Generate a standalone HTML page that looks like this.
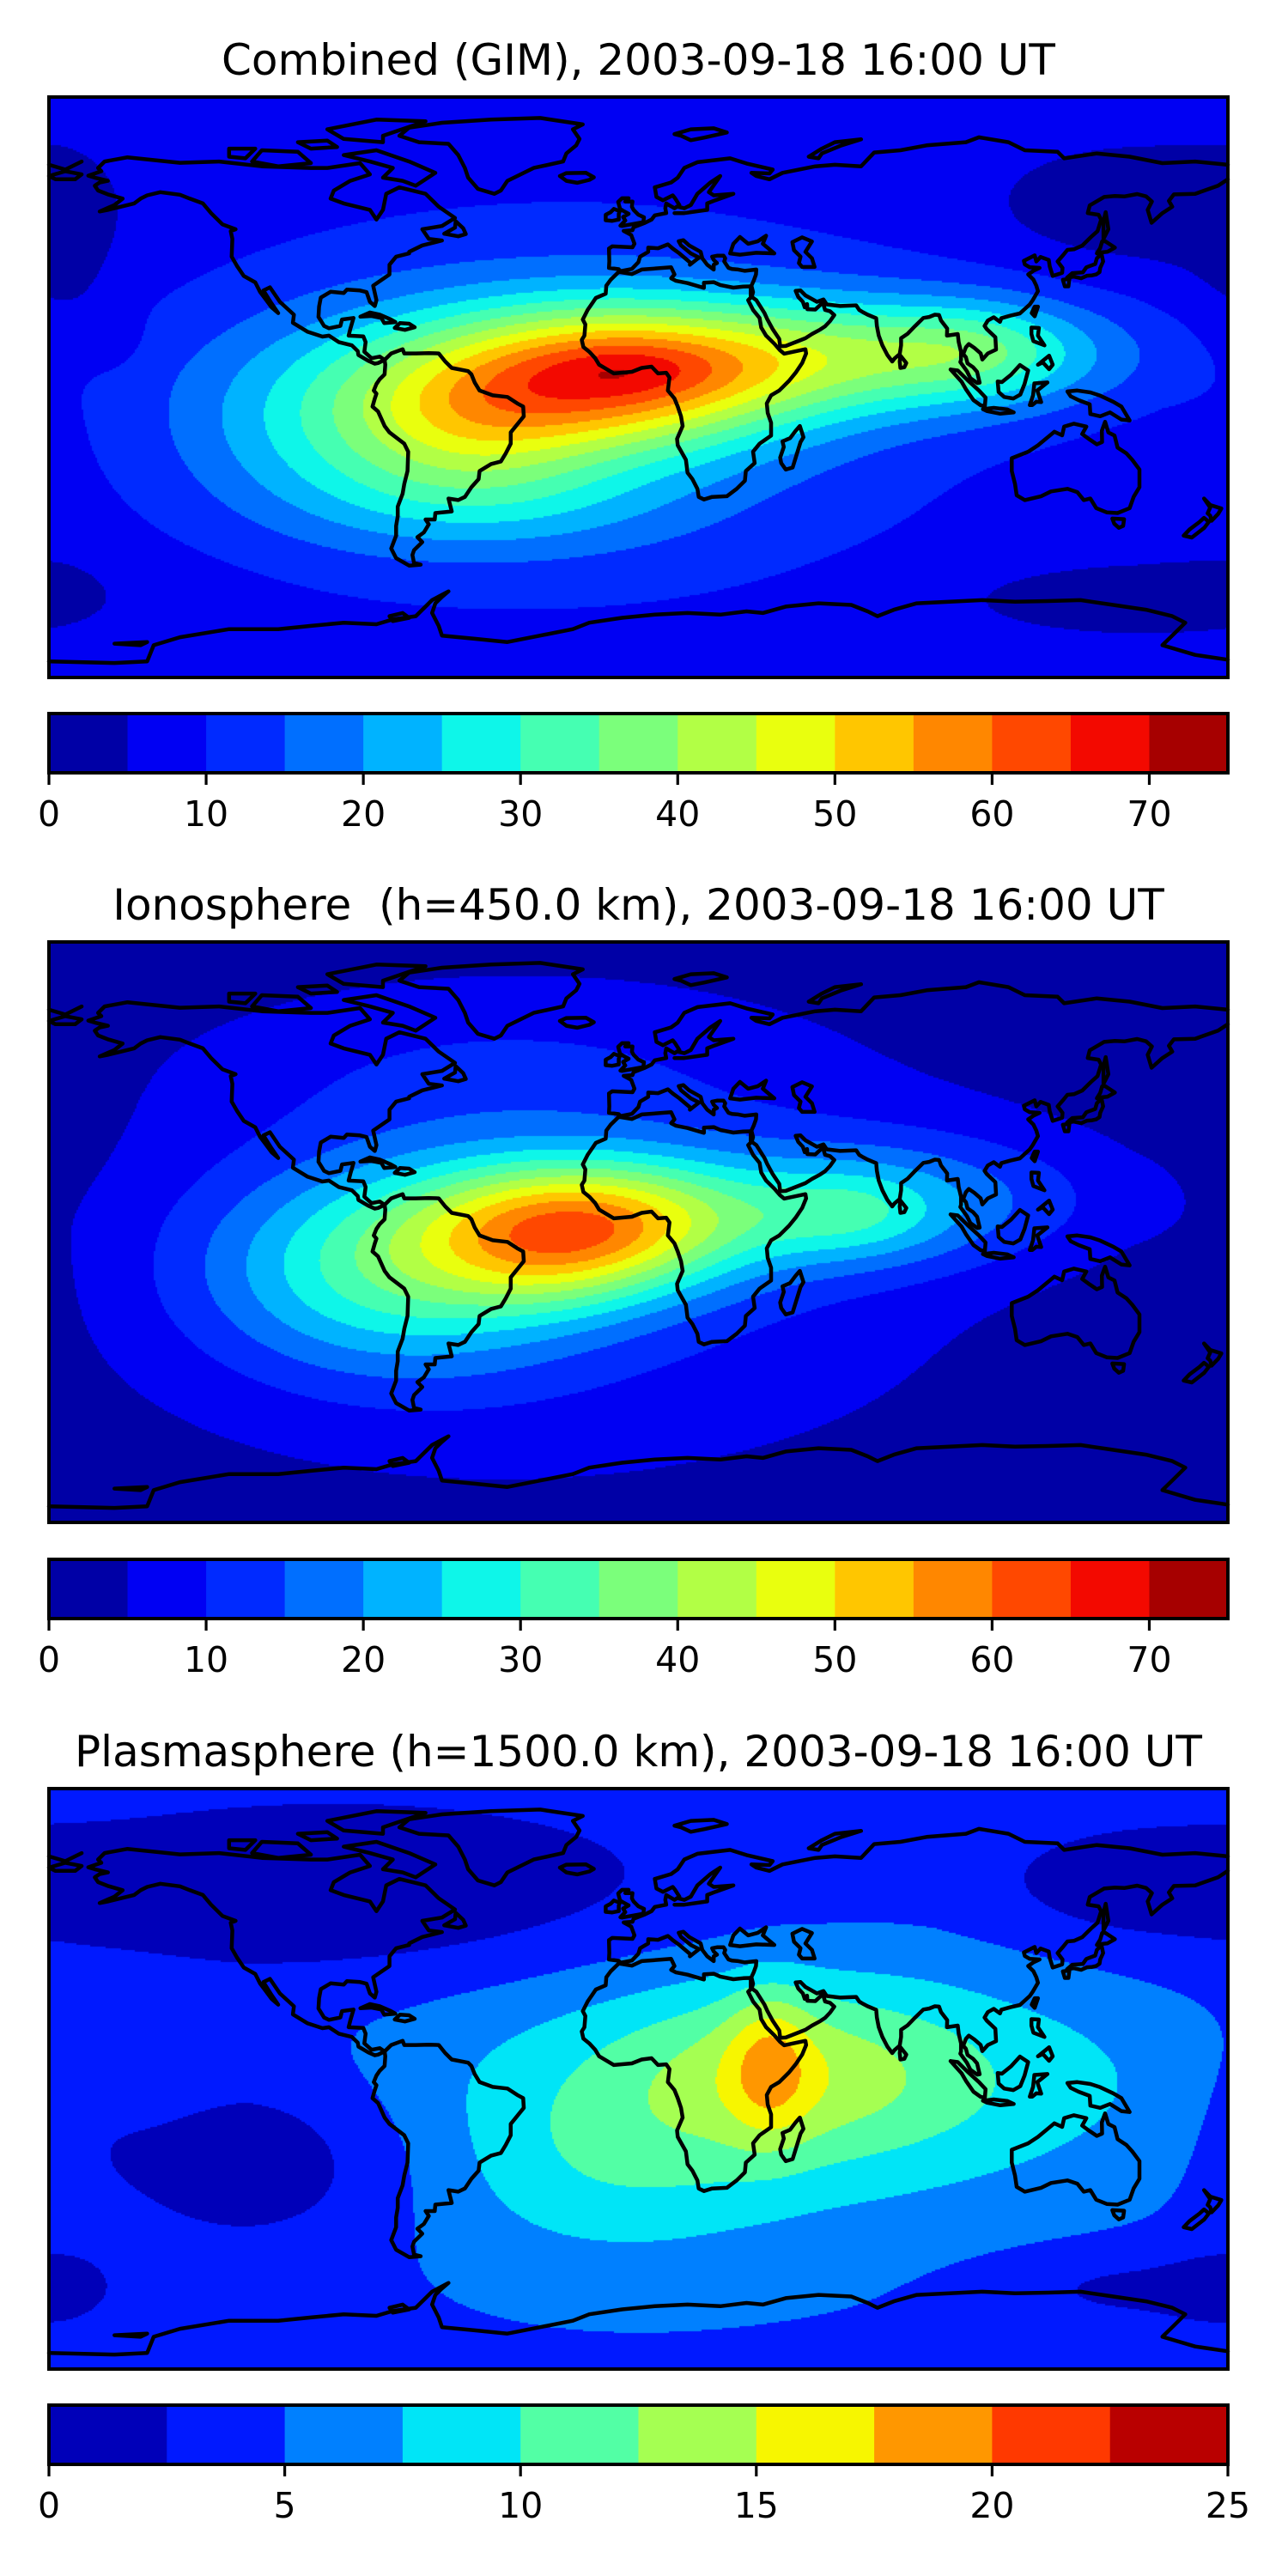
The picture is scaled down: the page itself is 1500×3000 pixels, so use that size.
<!DOCTYPE html>
<html><head><meta charset="utf-8">
<style>
html,body{margin:0;padding:0;background:#fff;}
#wrap{position:relative;width:1500px;height:3000px;overflow:hidden;background:#fff;}
canvas{position:absolute;}
svg{position:absolute;left:0;top:0;}
text{font-family:"DejaVu Sans","Liberation Sans",sans-serif;fill:#000;white-space:pre;}
</style></head>
<body>
<div id="wrap">
<canvas id="c0" width="1373" height="676" style="left:57px;top:113px"></canvas>
<canvas id="c1" width="1373" height="676" style="left:57px;top:1097px"></canvas>
<canvas id="c2" width="1373" height="676" style="left:57px;top:2083px"></canvas>
<svg id="ov" width="1500" height="3000"></svg>
</div>
<script>
// ===== data =====
const titles = ["Combined (GIM), 2003-09-18 16:00 UT","Ionosphere  (h=450.0 km), 2003-09-18 16:00 UT","Plasmasphere (h=1500.0 km), 2003-09-18 16:00 UT"];
const levelMax = [75, 75, 25];
const levelStep = [5, 5, 2.5];
const tickVals0 = [0,10,20,30,40,50,60,70];
const tickVals1 = [0,10,20,30,40,50,60,70];
const tickVals2 = [0,5,10,15,20,25];
const baseVals = [6, 2, 4];
// gaussian components per map: centre lon, centre lat, sigma lon, sigma lat, amplitude
const combLon = [-10,-80,75,105,-20,-50,-40,150,-175,145,-180,-160,0];
const combLat = [3,-10,10,12,-5,-12,-35,55,35,-65,-62,15,6];
const combSLon = [40,40,50,20,90,25,40,30,12,40,10,6,18];
const combSLat = [16,22,13,10,45,14,12,12,22,8,6,6,6];
const combAmp = [42,17,24,8,10,8,8,-5,-4,-4,-3,-3,4];
const ionoLon = [-15,-75,-25,65,80,-30,-40,150,-175];
const ionoLat = [3,-12,-12,5,10,-5,50,-10,20];
const ionoSLon = [35,40,25,20,45,90,60,40,15];
const ionoSLat = [14,22,12,10,15,45,18,30,30];
const ionoAmp = [40,22,8,10,14,10,5,-1,-1];
const plasLon = [40,45,60,-10,10,-90,150,-115,150,-180,-170];
const plasLat = [5,3,0,-30,-20,58,60,-25,-65,-65,-10];
const plasSLon = [9,35,80,35,100,75,30,35,30,12,15];
const plasSLat = [16,18,25,20,45,20,12,20,8,8,20];
const plasAmp = [5,4,5,2.5,2,-4,-2.5,-4,-2.5,-2.5,-1.5];

const coasts = [
[[-165,68],[-163,70],[-156,71.3],[-140,69.6],[-128,70],[-115,68.5],[-100,68],[-95,68],[-85,69.5],[-82,66],[-88,64],[-93,61],[-94,58.5],[-90,57],[-82,55],[-80,52],[-78,55],[-77,60],[-73,62],[-65,60],[-61,56],[-56,52.5],[-60,50],[-66,49],[-64,46],[-60,45.5],[-66,44],[-70,42],[-70,41.5],[-74,40.5],[-76,38],[-76,35],[-81,31.5],[-80,27],[-80.5,25.2],[-82,26.5],[-83,29.5],[-85,30],[-89,30.3],[-90,29.2],[-94,29.6],[-97,27.8],[-97.5,25],[-97.7,21.8],[-96,19],[-94.5,18.3],[-91,19],[-90.5,21],[-87,21.5],[-88,18],[-88.5,16],[-84,15.8],[-83.3,14],[-83.7,11],[-81.5,9],[-79,9.5],[-77.5,8.5],[-79.5,7.5],[-80.5,7.3],[-82.5,8.2],[-85.5,10],[-85.7,11.2],[-87.5,13],[-91.5,14],[-94.5,16],[-96.5,15.7],[-101,17.2],[-105.5,20],[-105.2,22.5],[-109.5,26.5],[-112.5,31],[-114.5,30],[-112,26],[-110,23],[-112,24.8],[-114,27.5],[-115.5,29.5],[-117,32.5],[-120.5,34.5],[-122.5,37.5],[-124.2,40.5],[-124,46],[-124.5,48.4],[-123,49],[-127,50.5],[-130.5,54],[-133,57],[-137,58.5],[-140,59.7],[-146,60.5],[-150,59.5],[-152,58.5],[-154,57],[-158,56],[-162,55],[-164.5,54.5],[-160,56.5],[-157.5,58.5],[-162,59.8],[-165,61],[-166,62.5],[-164.5,63.5],[-162,64],[-166,65],[-168,65.6],[-164,67],[-165,68]],
[[-73,78],[-67,76],[-58,75.5],[-55,72],[-53,68],[-52,65],[-49,61.5],[-44,60],[-42,61],[-40,64],[-37,65.5],[-32,68],[-23,70],[-22,72.5],[-19,75],[-18,77],[-20,80],[-17,81.5],[-30,83.5],[-45,83],[-60,82],[-70,80.5],[-73,78]],
[[-62,66.5],[-68,62.5],[-72,64],[-78,65],[-75,68],[-82,70],[-90,72],[-80,73.5],[-70,70],[-62,66.5]],
[[-118,70],[-110,68.5],[-100,69.5],[-104,73],[-115,73.5],[-118,70]],
[[-78,76],[-90,77],[-95,80],[-80,83],[-65,82.5],[-78,78],[-78,76]],
[[-125,71.5],[-120,71],[-117,74],[-125,74],[-125,71.5]],
[[-100,74],[-92,74.5],[-95,76.5],[-104,76],[-100,74]],
[[-77.5,8.5],[-75.5,10.5],[-72,11.8],[-71.5,10.5],[-68,10.5],[-64,10.6],[-61,10.5],[-59,8],[-57,6],[-52,5],[-51,4],[-50,1.5],[-48.5,-1],[-44.5,-2.5],[-40,-3],[-37,-5],[-35.2,-6],[-35,-9],[-37,-11.5],[-39,-14],[-39,-17.5],[-40.5,-20.5],[-42,-23],[-45,-23.8],[-48.5,-26],[-48.8,-28.5],[-51,-31],[-53,-34],[-55,-35],[-58,-34.5],[-57.5,-36.5],[-57,-38.5],[-62,-39],[-62.2,-41],[-65,-41],[-64,-42.5],[-65.5,-45],[-67.5,-46.5],[-66,-48],[-68.5,-50.5],[-69,-52],[-68.5,-54.5],[-66.5,-55],[-70,-55.3],[-74,-53],[-75.5,-50],[-74,-46],[-74,-43],[-73.5,-40],[-73.5,-37],[-72,-33],[-71.5,-30],[-70.5,-26],[-70.3,-20],[-71.5,-17.5],[-76,-14],[-77.5,-12],[-79.5,-7.5],[-81.2,-6],[-80.5,-3.5],[-80,-2],[-80.8,-1],[-80,1],[-79,2.5],[-77.5,4],[-77.3,7],[-77.5,8.5]],
[[-6,35.8],[-2,35.1],[1,36.5],[10,37.2],[11,35],[10,33.8],[11.5,33],[15,32.3],[20,30.8],[20,32.4],[23,32.6],[25,31.7],[29,30.9],[32,31.2],[34.3,31.3],[34.3,27.8],[33.5,27],[35,24],[37,21.5],[37.5,18.5],[39,16],[41.5,13.5],[43.2,11.5],[44.5,10.4],[51,11.8],[51.2,10.5],[50,7.5],[48,4.5],[46,2],[43,-1],[40.5,-2.5],[39.2,-5],[39.5,-8],[40.5,-11],[40.5,-15],[37,-17.5],[35,-20],[35.5,-23.5],[32.8,-26],[32.5,-29],[30,-31.5],[27,-33.8],[22.5,-34],[20,-34.8],[18.4,-34],[18,-31.5],[16.5,-28.5],[15,-26.5],[14.5,-22.5],[12,-18],[11.8,-16],[13.5,-12],[13,-9],[12,-6],[11,-3.5],[9,-1],[9.5,3],[8.5,4.5],[6,4.3],[4,6.4],[1,6],[-2,4.8],[-7.5,4.3],[-12,7],[-13.2,9],[-15,11],[-16.8,12.5],[-17.3,14.7],[-16.5,16],[-16.2,19.5],[-17,21],[-15.5,24],[-14,26.2],[-13,27.7],[-10,29],[-9.8,31.5],[-8.5,33.3],[-6,35.8]],
[[-9,43],[-8.9,39],[-9,37],[-6,36.6],[-5.5,36],[-2,36.7],[0,38.8],[0.5,40.5],[3,42],[3,43.3],[6,43.1],[9,44.3],[10.5,43],[12.5,41.5],[16,38.5],[15.7,38],[17,39],[18.5,40.2],[16,41.5],[13,44],[12.3,45.3],[13.7,45.6],[15.5,44],[19,42],[19.5,40],[21,38],[23,36.5],[23,38],[24,38.5],[23,39.5],[22.5,40.5],[24,40.8],[26,40.8],[26.5,40],[26.2,39],[27.5,37],[28.5,36.7],[30.5,36.5],[32.5,36.1],[36,36.5],[35.9,35],[35.2,33],[34.5,31.5],[35,29.5],[34.6,28],[36,27],[38.5,23],[39.3,21.2],[41,18],[43,15],[43.3,12.7],[45,12.8],[48,14],[51,15.2],[53,16.5],[55.5,17.9],[57,18.9],[58.5,20.5],[59.8,22.4],[58.5,23.6],[57,24],[56.3,26.3],[55.5,25.5],[54,24.1],[51.6,24.2],[51.5,25.8],[50.8,24.8],[50.2,26.5],[48.8,28],[48,29.9],[49.5,30],[51,28.5],[54.5,26.5],[56.5,27.2],[57.5,25.7],[61.6,25.2],[66.5,25.4],[67.4,24],[68.5,23.3],[70,22.5],[72.6,21.4],[72.8,19],[73.4,16],[74.5,13],[76,10],[77.5,8],[78.2,8.9],[79.8,10.3],[80.2,13],[80.2,15.2],[82.2,16.6],[84.5,19],[87,21.5],[88.8,21.8],[90.5,22.5],[91.8,22.4],[92.4,20.7],[94.3,18.2],[94.2,16],[97.5,16.5],[97.8,14],[98.5,11],[98.5,8.5],[98.3,7.8],[100.3,5],[101.4,2.8],[103.5,1.3],[104.2,1.4],[103.4,4.8],[102.2,6.2],[100.5,7.4],[100,9.3],[99.2,10.3],[100,12.4],[100.9,13.4],[102.6,12.2],[104.5,10.5],[105,8.6],[106.7,10.5],[109.2,11.7],[109,15.5],[106.4,18],[105.7,19],[106.7,20.7],[108.5,21.7],[110.4,20.3],[110.8,21.4],[113.6,22.2],[116.5,22.9],[119.5,25.7],[120.4,27],[122,29.8],[121.5,31.5],[120.6,33.4],[119,35],[120.6,36.1],[122.5,37],[119.5,37.2],[118,38.1],[117.7,39.2],[121,40.9],[121.5,39],[122.8,40.4],[125.3,39.5],[125.6,37.5],[126.5,34.5],[129.4,35.5],[129.5,37],[128,39],[129.7,41],[131,42.6],[133,42.8],[135.5,43.9],[138.2,46.6],[140.2,48.4],[141.3,52],[140.5,53.5],[137.2,54],[137.8,56.4],[142.2,59],[145.5,59.3],[148.5,59.2],[152.3,59.9],[155,59.2],[156.8,57.6],[155.5,55],[156.7,51],[160,54],[163,56],[162,57.8],[163.5,59.8],[170,60],[177,62.5],[180,64.5]],
[[180,69],[170,70],[160,69.5],[150,71.5],[140,72.5],[130,71],[128,73],[118,73.5],[113,76],[104,77.5],[100,76],[88,75],[80,73.5],[72,72.8],[68,68.5],[60,69],[54,68.5],[44,66.5],[40,64.5],[36,65.5],[34.5,66.5],[40,66.3],[41,67.5],[33,69.4],[28,71],[18,69.8],[14,68],[12,65],[10,63.5],[5,62],[5.5,59],[7.5,58],[10.5,59.5],[11.2,58.6],[12.5,56.5],[11,55.5],[8.5,57],[8.2,55.5],[8.5,54],[5,53.3],[4,52],[2,51],[-1.5,49.6],[-1.8,48.7],[-4.5,48.5],[-2.2,47.2],[-1.2,44.5],[-1.8,43.4],[-8,43.7],[-9,43]],
[[-180,65.5],[-175,67],[-170,66],[-172,64.5],[-178,64.5],[-180,65.5]],
[[-180,69],[-175,67.5],[-170,70]],
[[12,56],[14,55.5],[16,56.5],[18,60],[22,63.5],[25,65.5],[21.5,60.5],[23,59.5],[29,60],[23.5,58],[21,57],[21,55],[14,54],[11,54]],
[[28,41.5],[29,44.5],[31,46.6],[33.5,44.5],[36.5,45.3],[39,47],[38,44.5],[41.5,41.5],[36,41.7],[31,41.1],[28,41.5]],
[[47,45],[50,46.5],[53,45.2],[51,42],[53,40],[53.8,37.3],[50,37.3],[49,38.5],[49.5,40.5],[47.5,42.5],[47,45]],
[[114,-22],[114,-26],[115,-30],[115.5,-33.5],[118,-35],[123,-33.8],[126,-32.3],[131,-31.5],[134,-32.5],[136,-35],[138,-34.5],[139.8,-37.5],[143,-38.8],[146.3,-39],[150,-37.5],[151.2,-34],[153,-31],[153,-25.5],[150.8,-22.5],[149,-20.5],[146.3,-18.7],[145.4,-15],[143.5,-14],[142.5,-10.7],[141.5,-13.5],[141.6,-17],[140,-17.7],[137.5,-16],[135.5,-14.5],[136.8,-12.2],[133,-11.3],[130,-12.2],[129.4,-14.9],[127,-13.8],[125,-15.5],[122,-18],[119,-20],[114,-22]],
[[144.7,-40.7],[148.3,-40.9],[148,-43],[146.7,-43.6],[145.3,-42.3],[144.7,-40.7]],
[[172.7,-34.5],[174.6,-36.5],[178,-37.6],[177,-39.3],[175,-41.4],[174.6,-39.8],[173.8,-39.1],[174.6,-37.3],[172.7,-34.5]],
[[172.7,-40.5],[174.2,-41.7],[172.8,-43.6],[171,-45],[169,-46.6],[166.5,-46],[168.3,-44.1],[171.3,-41.8],[172.7,-40.5]],
[[49.3,-12],[50.4,-15.5],[49.5,-17],[47.1,-24.9],[45,-25.5],[43.6,-23.5],[43.3,-21.8],[44.4,-18.5],[44,-16.8],[46.3,-15.8],[48,-13.5],[49.3,-12]],
[[130.9,34],[132.5,35.4],[135.7,35.6],[136.8,37.2],[139.5,38.2],[140,40],[141.4,41.4],[141.9,39],[141,37],[140.8,35.7],[139.8,35],[138.5,34.7],[137,34.6],[135.2,33.8],[133,34.3],[130.9,34]],
[[129.6,33.3],[131.6,33.6],[131.3,31.3],[130.2,31.3],[129.6,33.3]],
[[140,41.5],[141.2,41.8],[143.2,42],[145.5,43.3],[142.5,45.3],[141.6,45.2],[141,43.2],[140,41.5]],
[[142,46],[143.5,49],[142.7,54.3],[142,51.5],[142,46]],
[[95.3,5.5],[97.5,5.2],[100.5,2.2],[104,-1],[106,-3.2],[105.8,-5.8],[104.5,-5.6],[102.3,-4],[100,-0.6],[98.7,1.7],[95.3,5.5]],
[[105.2,-6.8],[108.5,-6.4],[112.7,-6.9],[114.6,-7.8],[110.5,-8.2],[106.5,-7.4],[105.2,-6.8]],
[[109.7,1.8],[111,1.6],[113.8,3.9],[116.5,6.9],[119,5.2],[117.9,1],[116.6,-2.3],[114.5,-3.5],[111.7,-3],[110,-1.5],[109.7,1.8]],
[[119.5,-5.5],[120.5,-2.5],[120.9,1.2],[124.9,1.5],[121.8,-1],[123,-4.6],[121.5,-4.5],[120.3,-5.5],[119.5,-5.5]],
[[131,-1.3],[134,-1],[138,-1.6],[141,-2.6],[145,-4.5],[147.5,-6],[150,-10.3],[147.5,-10],[144,-7.8],[141,-9],[138,-8.3],[137.8,-5.3],[134.4,-4],[132,-2.8],[131,-1.3]],
[[120,18.5],[122.3,18.4],[122,16],[124,13],[120.6,14.3],[120,16.5],[120,18.5]],
[[122,7],[125.4,9.8],[126.5,7],[125.4,5.6],[123.5,7.7],[122,7]],
[[120.1,23],[121,25],[122,25],[121,22],[120.1,23]],
[[79.8,8],[80,9.8],[81.8,7.5],[81.2,6.2],[80,6],[79.8,8]],
[[-5,50],[1.5,51.2],[1.7,52.7],[0,53.5],[-1.5,55],[-2,56],[-1.8,57.6],[-4,57.6],[-3,58.6],[-5,58.6],[-6.2,57.5],[-5.6,55.3],[-4.8,54.8],[-3,53.8],[-4.7,52.8],[-4,51.7],[-5.5,50.1],[-5,50]],
[[-6,52],[-6,53.8],[-5.7,54.6],[-7.5,55.3],[-8.5,54.3],[-10,53.5],[-10,51.8],[-8,51.6],[-6,52]],
[[-22,64],[-24,65.5],[-22,66.4],[-16,66.5],[-13.6,65.1],[-15,64.3],[-18.7,63.4],[-22,64]],
[[11,78.5],[16,80],[23,80.3],[27,79],[20,77.4],[16,76.6],[13,78],[11,78.5]],
[[52,71.5],[56,74],[60,76],[68,76.9],[62,75],[56,72.5],[55,71],[52,71.5]],
[[-84.9,21.9],[-82,23.2],[-79,22.5],[-75.6,21],[-74.2,20.2],[-77.6,19.9],[-78.5,21.5],[-81.5,22.1],[-84.9,21.9]],
[[-74.4,18.4],[-72.8,19.9],[-70,19.7],[-68.3,18.6],[-71.3,17.8],[-74.4,18.4]],
[[-59.3,47.6],[-56,49.5],[-55.8,51.5],[-53.5,49.3],[-52.7,47.5],[-55,46.8],[-59.3,47.6]],
[[-180,-85],[-160,-85.5],[-150,-85],[-148,-80],[-140,-77.5],[-125,-75],[-110,-75],[-100,-74],[-90,-73],[-80,-73.5],[-75,-72],[-68,-71],[-66,-69],[-63,-66],[-58,-63.3],[-60,-65],[-62,-67],[-63,-70],[-61,-74],[-60,-77],[-50,-78],[-40,-79],[-35,-78],[-30,-77],[-20,-75],[-15,-73],[-5,-71.5],[5,-70.5],[15,-70],[25,-70.5],[33,-69.5],[38,-70],[45,-68],[55,-67],[65,-67.5],[70,-69.5],[73,-71],[78,-69],[85,-67],[95,-66.5],[105,-66],[115,-66.5],[125,-66.3],[135,-66],[145,-67.5],[155,-69],[163,-71],[167,-73],[163,-77],[160,-80],[170,-83],[180,-84.5]],
[[-75,-72.5],[-70,-71.5],[-72,-70],[-76,-71],[-75,-72.5]],
[[-160,-79.5],[-150,-79],[-152,-80],[-160,-79.5]]
];

// ===== geometry =====
const MAP_X = 57, MAP_W = 1373, MAP_H = 676;
const mapTops = [113, 1097, 2083];
const cbTops = [831, 1816, 2801];
const CB_H = 69;
function xOfLon(lon){ return MAP_X + (lon + 180) / 360 * MAP_W; }
function yOfLat(lat, top){ return top + (90 - lat) / 180 * MAP_H; }

function jetCh(t, pts){
  for (let i = 0; i < pts.length - 1; i++){
    const a = pts[i], b = pts[i+1];
    if (t >= a[0] && t <= b[0]) return a[1] + (b[1]-a[1]) * (t-a[0]) / (b[0]-a[0]);
  }
  return pts[pts.length-1][1];
}
function jet(t){
  const r = jetCh(t, [[0,0],[0.35,0],[0.66,1],[0.89,1],[1,0.5]]);
  const g = jetCh(t, [[0,0],[0.125,0],[0.375,1],[0.64,1],[0.91,0],[1,0]]);
  const b = jetCh(t, [[0,0.5],[0.11,1],[0.34,1],[0.65,0],[1,0]]);
  return [Math.round(r*255), Math.round(g*255), Math.round(b*255)];
}

const comps = [
  [combLon, combLat, combSLon, combSLat, combAmp],
  [ionoLon, ionoLat, ionoSLon, ionoSLat, ionoAmp],
  [plasLon, plasLat, plasSLon, plasSLat, plasAmp]
];

function field(m, lon, lat){
  const [L, A, SL, SA, AM] = comps[m];
  let v = baseVals[m];
  for (let i = 0; i < L.length; i++){
    let dl = lon - L[i];
    if (dl > 180) dl -= 360; if (dl < -180) dl += 360;
    const da = lat - A[i];
    v += AM[i] * Math.exp(-(dl*dl/(2*SL[i]*SL[i]) + da*da/(2*SA[i]*SA[i])));
  }
  return v;
}

for (let m = 0; m < 3; m++){
  const n = Math.round(levelMax[m] / levelStep[m]);
  const cols = [];
  for (let i = 0; i < n; i++) cols.push(jet((i + 0.5) / n));
  const cv = document.getElementById('c' + m);
  const ctx = cv.getContext('2d');
  const img = ctx.createImageData(MAP_W, MAP_H);
  const S = 2;
  for (let py = 0; py < MAP_H; py += S){
    const lat = 90 - (py + S/2) / MAP_H * 180;
    for (let px = 0; px < MAP_W; px += S){
      const lon = (px + S/2) / MAP_W * 360 - 180;
      let k = Math.floor(field(m, lon, lat) / levelStep[m]);
      if (k < 0) k = 0; if (k > n - 1) k = n - 1;
      const c = cols[k];
      for (let yy = py; yy < Math.min(py + S, MAP_H); yy++)
        for (let xx = px; xx < Math.min(px + S, MAP_W); xx++){
          const o = (yy * MAP_W + xx) * 4;
          img.data[o] = c[0]; img.data[o+1] = c[1]; img.data[o+2] = c[2]; img.data[o+3] = 255;
        }
    }
  }
  ctx.putImageData(img, 0, 0);
}

// ===== SVG overlay =====
const NS = 'http://www.w3.org/2000/svg';
const ov = document.getElementById('ov');
function mk(tag, attrs, parent){
  const e = document.createElementNS(NS, tag);
  for (const k in attrs) e.setAttribute(k, attrs[k]);
  (parent || ov).appendChild(e);
  return e;
}
const tickSets = [tickVals0, tickVals1, tickVals2];
const panelNames = ['combined', 'ionosphere', 'plasmasphere'];

for (let m = 0; m < 3; m++){
  const top = mapTops[m];
  const g = mk('g', {});
  
  

  const t = mk('text', {x: 743.5, y: top - 26, 'text-anchor': 'middle', 'font-size': 50}, g);
  t.textContent = titles[m];
  
  

  const cg = mk('g', {fill: 'none', stroke: '#000', 'stroke-width': 4.5, 'stroke-linejoin': 'round', 'stroke-linecap': 'round'}, g);
  
  
  for (const line of coasts){
    const d = line.map((p, i) => (i ? 'L' : 'M') + xOfLon(p[0]).toFixed(1) + ',' + yOfLat(p[1], top).toFixed(1)).join('');
    const p = mk('path', {d: d}, cg);
    
    
  }
  const fr = mk('rect', {x: MAP_X, y: top, width: MAP_W, height: MAP_H, fill: 'none', stroke: '#000', 'stroke-width': 4}, g);
  
  

  // colorbar
  const cbt = cbTops[m];
  const n = Math.round(levelMax[m] / levelStep[m]);
  const cb = mk('g', {}, g);
  
  
  for (let i = 0; i < n; i++){
    const c = jet((i + 0.5) / n);
    const x0 = MAP_X + i * levelStep[m] / levelMax[m] * MAP_W;
    const x1 = MAP_X + (i + 1) * levelStep[m] / levelMax[m] * MAP_W;
    const r = mk('rect', {x: x0, y: cbt, width: x1 - x0 + 0.6, height: CB_H, fill: 'rgb(' + c.join(',') + ')'}, cb);
    
    
  }
  const cf = mk('rect', {x: MAP_X, y: cbt, width: MAP_W, height: CB_H, fill: 'none', stroke: '#000', 'stroke-width': 4}, cb);
  
  
  for (const v of tickSets[m]){
    const x = MAP_X + v / levelMax[m] * MAP_W;
    const tk = mk('line', {x1: x, y1: cbt + CB_H, x2: x, y2: cbt + CB_H + 14, stroke: '#000', 'stroke-width': 3.2}, cb);
    
    
    const tl = mk('text', {x: x, y: cbt + CB_H + 62, 'text-anchor': 'middle', 'font-size': 41}, cb);
    tl.textContent = String(v);
    
    
  }
}
</script>
</body></html>
